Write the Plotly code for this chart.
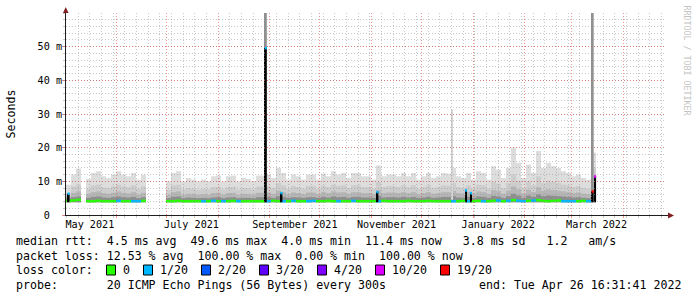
import plotly.graph_objects as go
import pandas as pd

# ---------------- data (ms) ----------------
START = "2021-05-01 16:31:41"
END = "2022-04-26 16:31:41"
STEP_DAYS = 3  # consolidation step of the samples below

smoke_max = [
    9.0, 12.0, 13.8, None, 10.7, 12.5, 13.0, 11.5, 11.0, 12.0,
    13.0, 12.0, 11.5, 12.5, 10.5, 12.0, None, None, None, None,
    10.0, 12.5, 13.0, 10.0, 11.0, 10.5, 10.0, 10.5, 10.0, 11.5,
    11.7, 10.0, 11.5, 11.7, 10.0, 11.0, 10.7, 10.0, 11.7, 11.7,
    12.0, 11.0, 14.0, 12.5, 10.5, 12.0, 11.5, 10.5, 12.0, 12.0,
    10.5, 12.3, 11.5, 13.0, 12.0, 12.5, 11.0, 12.5, 12.5, 11.5,
    11.5, 10.5, 14.7, 11.5, 12.0, 12.0, 11.5, 12.5, 11.5, 12.5,
    10.5, 11.5, 12.5, 11.0, 11.5, 12.5, 12.3, 14.0, 11.5, 11.0,
    12.5, 10.5, 13.0, 12.5, 10.5, 14.5, 13.5, 11.0, 14.0, 20.0,
    15.5, 11.0, 15.0, 12.5, 19.0, 14.0, 15.5, 14.5, 14.0, 13.0,
    12.5, 11.5, 12.0, 11.0, 10.5, 18.5,
]
smoke_upper = [
    6.5, 8.5, 9.0, None, 7.8, 8.8, 9.0, 8.2, 8.0, 8.5,
    9.0, 8.5, 8.2, 8.8, 7.8, 8.5, None, None, None, None,
    7.5, 8.8, 9.0, 7.6, 8.0, 7.8, 7.5, 7.8, 7.6, 8.3,
    8.4, 7.6, 8.3, 8.4, 7.5, 8.0, 7.9, 7.6, 8.4, 8.4,
    8.6, 8.0, 9.5, 8.8, 7.8, 8.6, 8.3, 7.8, 8.6, 8.6,
    7.8, 8.7, 8.3, 9.0, 8.6, 8.8, 8.0, 8.8, 8.8, 8.3,
    8.3, 7.8, 9.8, 8.3, 8.6, 8.6, 8.3, 8.8, 8.3, 8.8,
    7.8, 8.3, 8.8, 8.0, 8.3, 8.8, 8.7, 9.5, 8.3, 8.0,
    8.8, 7.8, 9.0, 8.8, 7.8, 9.8, 9.3, 8.0, 9.5, 12.0,
    10.2, 8.0, 10.0, 8.8, 11.5, 9.5, 10.2, 9.8, 9.5, 9.0,
    8.8, 8.3, 8.6, 8.0, 7.8, 14.0,
]
smoke_mid = [
    5.6, 6.6, 7.0, None, 6.2, 6.8, 7.0, 6.5, 6.3, 6.6,
    7.0, 6.6, 6.4, 6.8, 6.1, 6.6, None, None, None, None,
    6.0, 6.8, 7.0, 6.0, 6.3, 6.2, 6.0, 6.2, 6.0, 6.5,
    6.6, 6.0, 6.5, 6.6, 6.0, 6.3, 6.2, 6.0, 6.6, 6.6,
    6.7, 6.3, 7.2, 6.8, 6.2, 6.7, 6.5, 6.2, 6.7, 6.7,
    6.2, 6.8, 6.5, 7.0, 6.7, 6.8, 6.3, 6.8, 6.8, 6.5,
    6.5, 6.2, 7.4, 6.5, 6.7, 6.7, 6.5, 6.8, 6.5, 6.8,
    6.2, 6.5, 6.8, 6.3, 6.5, 6.8, 6.8, 7.2, 6.5, 6.3,
    6.8, 6.2, 7.0, 6.8, 6.2, 7.4, 7.1, 6.3, 7.2, 8.5,
    7.6, 6.3, 7.5, 6.8, 8.2, 7.2, 7.6, 7.4, 7.2, 7.0,
    6.8, 6.5, 6.7, 6.3, 6.2, 12.0,
]
smoke_core = [
    4.9, 5.3, 5.5, None, 5.1, 5.4, 5.5, 5.2, 5.1, 5.3,
    5.5, 5.3, 5.2, 5.4, 5.0, 5.3, None, None, None, None,
    5.0, 5.4, 5.5, 5.0, 5.2, 5.1, 5.0, 5.1, 5.0, 5.2,
    5.3, 5.0, 5.2, 5.3, 5.0, 5.1, 5.1, 5.0, 5.3, 5.3,
    5.3, 5.1, 5.6, 5.4, 5.1, 5.3, 5.2, 5.1, 5.3, 5.3,
    5.1, 5.4, 5.2, 5.5, 5.3, 5.4, 5.1, 5.4, 5.4, 5.2,
    5.2, 5.1, 5.7, 5.2, 5.3, 5.3, 5.2, 5.4, 5.2, 5.4,
    5.1, 5.2, 5.4, 5.1, 5.2, 5.4, 5.4, 5.6, 5.2, 5.1,
    5.4, 5.1, 5.5, 5.4, 5.1, 5.7, 5.5, 5.1, 5.6, 6.3,
    5.8, 5.1, 5.8, 5.4, 6.1, 5.6, 5.8, 5.7, 5.6, 5.5,
    5.4, 5.2, 5.3, 5.1, 5.0, 10.0,
]
SMOKE_FLOOR = 3.8

median_rtt = [
    4.2, 4.3, 4.5, None, 4.1, 4.1, 4.2, 4.1, 4.1, 4.1,
    4.2, 4.1, 4.1, 4.1, 4.1, 4.2, None, None, None, None,
    4.1, 4.1, 4.2, 4.1, 4.1, 4.1, 4.1, 4.1, 4.1, 4.2,
    4.1, 4.1, 4.1, 4.2, 4.1, 4.1, 4.1, 4.1, 4.1, 4.1,
    4.1, 4.2, 4.1, 4.1, 4.1, 4.2, 4.1, 4.1, 4.1, 4.2,
    4.1, 4.1, 4.2, 4.1, 4.1, 4.1, 4.1, 4.2, 4.1, 4.1,
    4.1, 4.1, 4.1, 4.2, 4.1, 4.1, 4.1, 4.1, 4.2, 4.1,
    4.1, 4.1, 4.2, 4.1, 4.1, 4.1, 4.1, 4.1, 4.1, 4.2,
    4.1, 4.1, 4.2, 4.1, 4.1, 4.2, 4.3, 4.1, 4.2, 4.4,
    4.2, 4.1, 4.2, 4.3, 4.4, 4.2, 4.1, 4.2, 4.3, 4.1,
    4.1, 4.1, 4.1, 4.2, 4.1, None,
]
loss_count = [
    0, 0, 0, None, 0, 0, 0, 0, 0, 0,
    1, 0, 0, 1, 1, 0, None, None, None, None,
    0, 0, 0, 0, 0, 0, 0, 1, 0, 1,
    0, 1, 0, 0, 1, 0, 0, 0, 0, 0,
    1, 0, 0, 1, 0, 1, 0, 0, 1, 1,
    0, 0, 0, 0, 1, 0, 0, 1, 0, 0,
    0, 0, 1, 0, 0, 0, 0, 0, 0, 0,
    0, 0, 0, 0, 0, 0, 0, 1, 0, 0,
    1, 0, 0, 1, 0, 0, 1, 0, 1, 0,
    1, 1, 0, 1, 0, 0, 0, 0, 0, 1,
    1, 1, 0, 0, 1, None,
]

# short events narrower than one sample
spike_times = ["2021-05-03 06:55", "2021-08-29 14:00", "2021-09-07 23:40",
               "2021-11-04 14:00", "2021-12-19 07:00", "2021-12-27 16:30",
               "2021-12-30 16:30", "2022-03-13 16:30", "2022-03-15 04:30"]
spike_median = [6.3, 49.6, 6.5, 6.8, None, 7.3, 6.5, 7.0, 11.4]
spike_loss = [1, 1, 1, 1, None, 1, 1, 19, 10]
spike_light = [None, 60, None, None, 31.3, None, None, 60, None]
spike_dense = [None, 60, None, None, None, None, None, 60, None]

loss_labels = ["0", "1/20", "2/20", "3/20", "4/20", "10/20", "19/20"]
loss_thresholds = [0, 1, 2, 3, 4, 10, 19]
loss_colors = ["#26ff00", "#00b8ff", "#0059ff", "#5e00ff", "#7e00ff", "#dd00ff", "#ff0000"]

month_ticks = ["2021-05-01", "2021-07-01", "2021-09-01", "2021-11-01", "2022-01-01", "2022-03-01"]
month_labels = ["May 2021", "July 2021", "September 2021", "November 2021", "January 2022", "March 2022"]
y_ticks = [0, 10, 20, 30, 40, 50]
y_labels = ["0  ", "10 m", "20 m", "30 m", "40 m", "50 m"]

rtt_avg, rtt_max, rtt_min, rtt_now, rtt_sd, rtt_ams = 4.5, 49.6, 4.0, 11.4, 3.8, 1.2
loss_avg, loss_max, loss_min, loss_now = 12.53, 100.00, 0.00, 100.00
probe_text = "20 ICMP Echo Pings (56 Bytes) every 300s"
end_text = "end: Tue Apr 26 16:31:41 2022"

# ---------------- styling ----------------
W, H = 697, 297
L, R, T, B = 66, 666, 13, 215
MONO = "DejaVu Sans Mono"
DAY_MS = 86400000
GRID = "rgba(143,143,143,0.48)"
MGRID = "rgba(222,79,79,0.6)"
AXIS = "#1f1f1f"
ARROW = "#801f1f"
LABEL_OFFSET_DAYS = 15
MED_HALF = 0.38


def px_x(x):
    return (x - L) / (R - L)


def px_y(y):
    return (B - y) / (B - T)


def loss_color(n):
    idx = max(k for k, t in enumerate(loss_thresholds) if t <= n)
    return loss_colors[idx]


start_ts = pd.Timestamp(START)
sample_times = [start_ts + pd.Timedelta(days=STEP_DAYS * (i + 0.5)) for i in range(len(smoke_max))]
step_w = STEP_DAYS * DAY_MS

fig = go.Figure()


def band(values, color):
    ys = [None if v is None else v - SMOKE_FLOOR for v in values]
    fig.add_trace(go.Bar(x=sample_times, y=ys, base=SMOKE_FLOOR, width=step_w,
                         marker=dict(color=color, line=dict(width=0)),
                         hoverinfo="skip", showlegend=False))


band(smoke_max, "#dddddd")
band(smoke_upper, "#cdcdcd")
band(smoke_mid, "#b6b6b6")
band(smoke_core, "#8e8e8e")

# spike smoke
fig.add_trace(go.Bar(x=spike_times,
                     y=[None if v is None else v - SMOKE_FLOOR for v in spike_light],
                     base=SMOKE_FLOOR, width=1.1 * DAY_MS,
                     marker=dict(color="#d4d4d4", line=dict(width=0)),
                     hoverinfo="skip", showlegend=False))
fig.add_trace(go.Bar(x=spike_times,
                     y=[None if v is None else v - SMOKE_FLOOR for v in spike_dense],
                     base=SMOKE_FLOOR, width=1.1 * DAY_MS,
                     marker=dict(color="#909090", line=dict(width=0)),
                     hoverinfo="skip", showlegend=False))

# median line coloured by loss
med_x, med_base, med_col = [], [], []
for t, m, n in zip(sample_times, median_rtt, loss_count):
    if m is None:
        continue
    med_x.append(t)
    med_base.append(m - MED_HALF)
    med_col.append(loss_color(n))
fig.add_trace(go.Bar(x=med_x, y=[2 * MED_HALF] * len(med_x), base=med_base, width=step_w,
                     marker=dict(color=med_col, line=dict(width=0)),
                     hoverinfo="skip", showlegend=False))

# spike medians: black riser + coloured tip
sx, sh, tb, tc = [], [], [], []
for t, m, n in zip(spike_times, spike_median, spike_loss):
    if m is None:
        continue
    sx.append(t)
    sh.append(m - SMOKE_FLOOR)
    tb.append(m - MED_HALF)
    tc.append(loss_color(n))
fig.add_trace(go.Bar(x=sx, y=sh, base=SMOKE_FLOOR, width=1.1 * DAY_MS,
                     marker=dict(color="#000000", line=dict(width=0)),
                     hoverinfo="skip", showlegend=False))
fig.add_trace(go.Bar(x=sx, y=[2 * MED_HALF] * len(sx), base=tb, width=1.3 * DAY_MS,
                     marker=dict(color=tc, line=dict(width=0)),
                     hoverinfo="skip", showlegend=False))

# empty trace carrying the grid/axis subplot drawn above the data
fig.add_trace(go.Scatter(x=[], y=[], xaxis="x2", yaxis="y2", hoverinfo="skip", showlegend=False))

label_dates = [pd.Timestamp(m) + pd.Timedelta(days=LABEL_OFFSET_DAYS) for m in month_ticks]
xr = [START, END]

fig.update_layout(
    width=W, height=H, template="none",
    margin=dict(l=L, r=W - R, t=T, b=H - B, pad=0),
    paper_bgcolor="white", plot_bgcolor="rgba(0,0,0,0)",
    barmode="overlay", showlegend=False, hovermode=False,
    font=dict(family=MONO, size=11.6, color="black"),
    xaxis=dict(domain=[0, 1], anchor="y", type="date", range=xr,
               tickmode="array", tickvals=label_dates, ticktext=month_labels,
               showgrid=False, zeroline=False, showline=False, ticks="",
               tickfont=dict(family=MONO, size=10.15, color="black"),
               ticklabelstandoff=2),
    yaxis=dict(domain=[0, 1], anchor="x", range=[0, 60],
               tickmode="array", tickvals=y_ticks,
               ticktext=[s.replace(" ", "\u00a0") for s in y_labels],
               showgrid=False, zeroline=False, showline=False, ticks="",
               tickfont=dict(family=MONO, size=10.15, color="black"),
               ticklabelstandoff=3),
    xaxis2=dict(domain=[0, 1], anchor="y2", type="date", range=xr,
                tickmode="linear", tick0="2021-05-01", dtick="M1",
                showgrid=True, gridcolor=MGRID, griddash="1px,2px", gridwidth=1,
                showticklabels=False, ticks="outside", ticklen=2, tickcolor=MGRID,
                showline=True, linecolor=AXIS, linewidth=1, zeroline=False,
                minor=dict(tickmode="linear", tick0="2021-05-09", dtick=7 * DAY_MS,
                           showgrid=True, gridcolor=GRID, griddash="1px,2px",
                           ticks="outside", ticklen=2, tickcolor=GRID)),
    yaxis2=dict(domain=[0, 1], anchor="x2", range=[0, 60],
                tickmode="array", tickvals=y_ticks,
                showgrid=True, gridcolor=MGRID, griddash="1px,2px", gridwidth=1,
                showticklabels=False, ticks="outside", ticklen=3, tickcolor=MGRID,
                showline=True, linecolor=AXIS, linewidth=1, zeroline=False,
                minor=dict(tickmode="linear", tick0=0, dtick=2,
                           showgrid=True, gridcolor=GRID, griddash="1px,2px",
                           ticks="outside", ticklen=2, tickcolor=GRID)),
)

shapes = [
    # axis extensions and arrows
    dict(type="line", xref="paper", yref="paper", x0=px_x(65.5), x1=px_x(65.5),
         y0=1, y1=px_y(9), line=dict(color=AXIS, width=1), layer="above"),
    dict(type="line", xref="paper", yref="paper", x0=1, x1=px_x(669),
         y0=px_y(215.5), y1=px_y(215.5), line=dict(color=AXIS, width=1), layer="above"),
    dict(type="path", xref="paper", yref="paper", layer="above",
         path=f"M{px_x(63)},{px_y(13)} L{px_x(68.5)},{px_y(13)} L{px_x(65.75)},{px_y(7)} Z",
         fillcolor=ARROW, line=dict(width=0)),
    dict(type="path", xref="paper", yref="paper", layer="above",
         path=f"M{px_x(668)},{px_y(212.5)} L{px_x(668)},{px_y(218.5)} L{px_x(674)},{px_y(215.5)} Z",
         fillcolor=ARROW, line=dict(width=0)),
]

annotations = []


def text_ann(text, x, y, size=11.6, xanchor="left", color="black", angle=0):
    annotations.append(dict(text=text.replace(" ", "\u00a0"), x=px_x(x), y=px_y(y),
                            xref="paper", yref="paper", xanchor=xanchor, yanchor="middle",
                            showarrow=False, textangle=angle, borderpad=0, borderwidth=0,
                            font=dict(family=MONO, size=size, color=color)))


text_ann("Seconds", 10.5, 114, xanchor="center", angle=-90)
text_ann("RRDTOOL / TOBI OETIKER", 686.5, 60, size=8.3, xanchor="center", color="#c4c4c4", angle=90)

CH = 7.0
ROW = [241, 255.5, 270, 284.5]
text_ann(f"median rtt:  {rtt_avg:.1f} ms avg  {rtt_max:.1f} ms max  {rtt_min:.1f} ms min  "
         f"{rtt_now:.1f} ms now   {rtt_sd:.1f} ms sd   {rtt_ams:.1f}   am/s", 16, ROW[0])
text_ann(f"packet loss: {loss_avg:.2f} % avg  {loss_max:.2f} % max  {loss_min:.2f} % min  "
         f"{loss_now:.2f} % now", 16, ROW[1])
text_ann("loss color:", 16, ROW[2])
cursor = 16 + 13 * CH - 0.5
for lab, col in zip(loss_labels, loss_colors):
    shapes.append(dict(type="rect", xref="paper", yref="paper", layer="above",
                       x0=px_x(cursor), x1=px_x(cursor + 9), y0=px_y(ROW[2] + 5), y1=px_y(ROW[2] - 5),
                       fillcolor=col, line=dict(color="black", width=1)))
    text_ann(lab, cursor + 16, ROW[2])
    cursor = cursor + 16 + CH * len(lab) + 2 * CH
text_ann("probe:       " + probe_text, 16, ROW[3])
text_ann(end_text, 681, ROW[3], xanchor="right")

fig.update_layout(shapes=shapes, annotations=annotations)
fig.write_html("out.html")
